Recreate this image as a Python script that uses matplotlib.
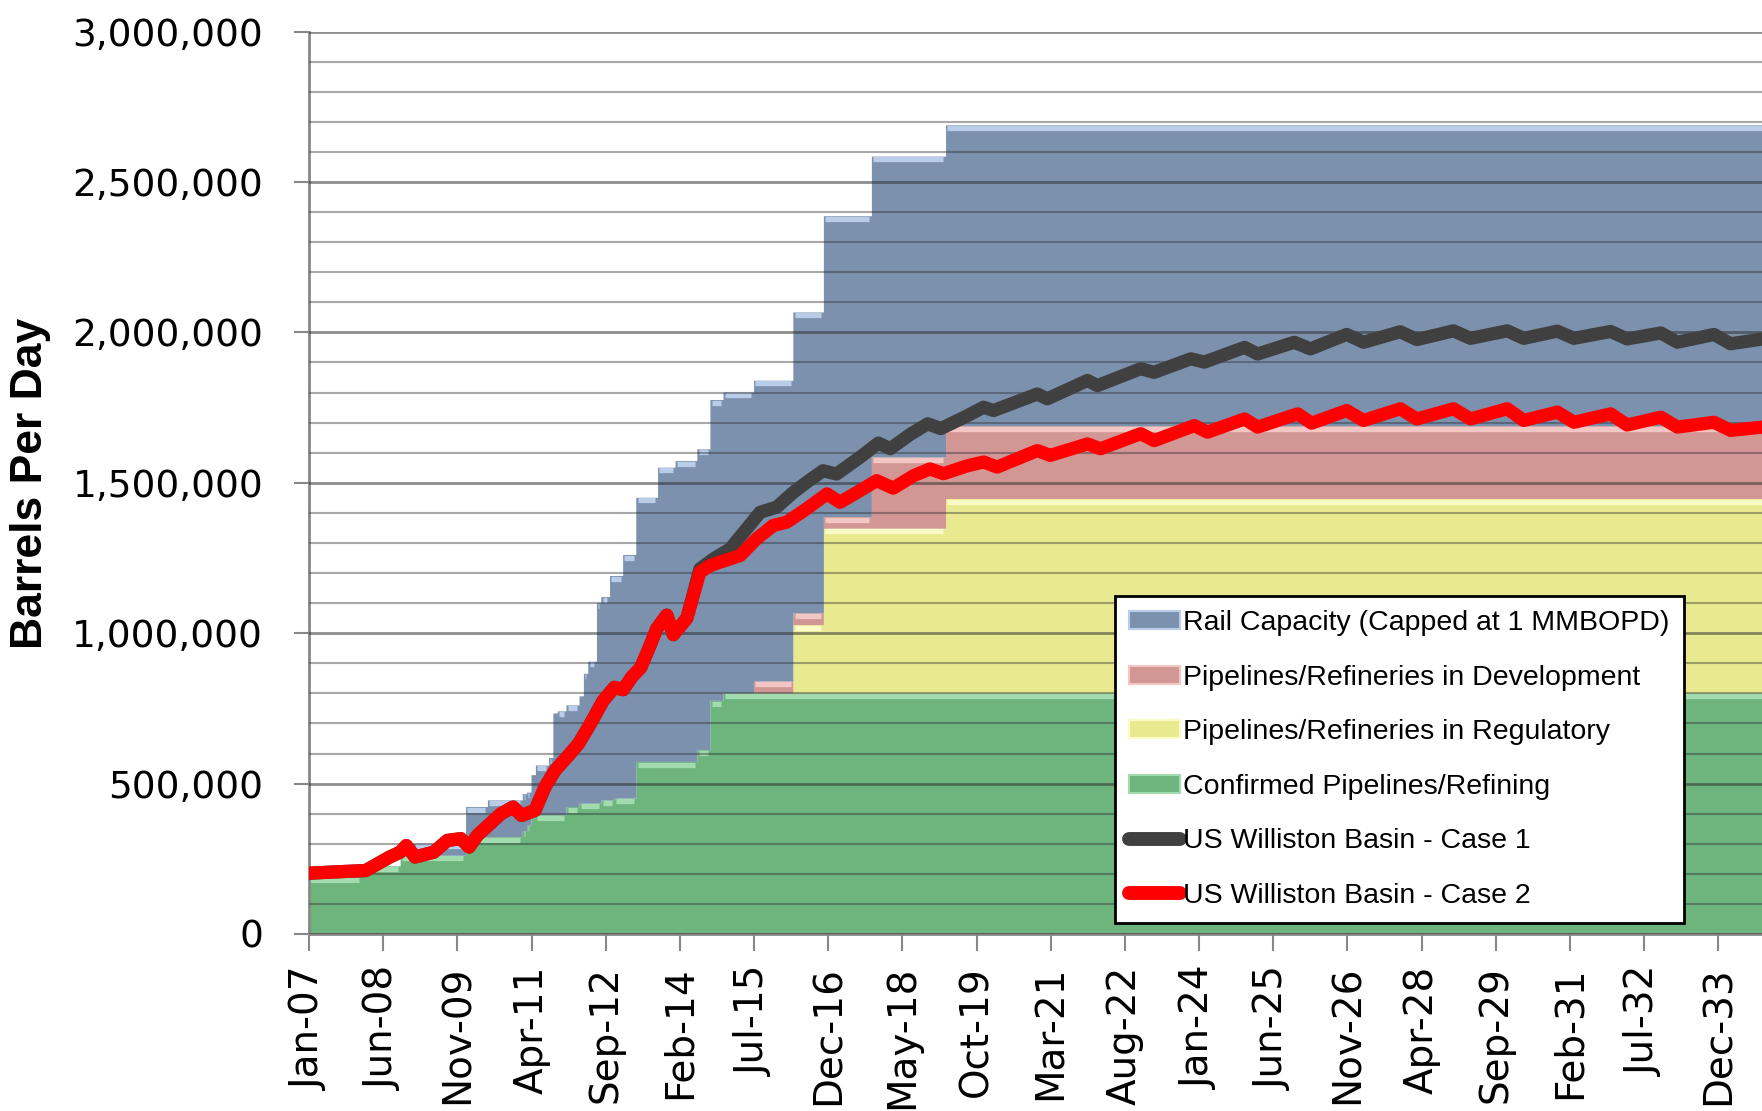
import numpy as np
import matplotlib
matplotlib.use("Agg")
import matplotlib.pyplot as plt
from matplotlib.patches import Patch
from matplotlib.lines import Line2D
from matplotlib.ticker import FuncFormatter, MultipleLocator

# ---------------- data (month index 0 = Jan-07) ----------------
N_MONTHS = 336  # Jan-07 .. Dec-34

confirmed_start = [0, 12, 21, 36, 49, 50, 51, 52, 59, 62, 67, 70, 75, 89, 92, 95]
confirmed_level = [190000, 225000, 260000, 322000, 340000, 360000, 383000, 395000,
                   422000, 433000, 444000, 450000, 572000, 611000, 775000, 800000]

regulatory_start = [0, 111, 118, 146]
regulatory_level = [0, 227000, 547000, 646000]

development_start = [0, 102, 129, 146]
development_level = [0, 39000, 237000, 242000]

rail_start = [0, 24, 36, 41, 49, 50, 51, 52, 55, 56, 57, 59, 62, 63, 64, 66, 67, 69,
              70, 72, 75, 80, 84]
rail_level = [0, 40000, 100000, 122000, 125000, 110000, 145000, 165000, 190000,
              338000, 345000, 338000, 357000, 432000, 472000, 667000, 676000, 746000,
              740000, 810000, 878000, 978000, 1000000]

# production forecasts (shared history until the cases split)
history_month = [0, 5.4, 13, 18.5, 20.9, 22.3, 24.3, 28.6, 31.7, 34.8, 36.7, 38.6, 44,
                 46.8, 48.7, 51.8, 54.1, 56.4, 59.5, 61.8, 64.1, 67.4, 70, 72, 74, 76,
                 78.2, 79.7, 82, 83.5, 86.6]
history_value = [202000, 206000, 211000, 256000, 272000, 294000, 256000, 272000, 311000,
                 317000, 289000, 328000, 400000, 422000, 394000, 411000, 489000, 544000,
                 594000, 633000, 689000, 775000, 820000, 812000, 855000, 885000, 960000,
                 1015000, 1060000, 995000, 1050000]

case1_month = [89.6, 92.7, 96.5, 100.3, 103.4, 107.2, 111, 114, 117.8, 120.9, 126.3,
               130.5, 133.2, 137.8, 141.8, 144.8, 150.5, 154.6, 156.9, 166.9, 169.2,
               178.4, 180.7, 190.6, 193.7, 202.1, 205.2, 214.4, 217.4, 225.8, 229.5,
               237.8, 241.7, 250.1, 253.9, 262.3, 266.2, 274.6, 278.4, 286.1, 289.9,
               298.3, 302.1, 309.8, 313.6, 322, 325.8, 333.2, 336]
case1_value = [1214000, 1247000, 1280000, 1347000, 1402000, 1419000, 1468000, 1501000,
               1540000, 1529000, 1585000, 1632000, 1613000, 1661000, 1696000, 1680000,
               1720000, 1751000, 1740000, 1795000, 1779000, 1840000, 1823000, 1879000,
               1867000, 1912000, 1901000, 1950000, 1928000, 1967000, 1945000, 1993000,
               1967000, 2002000, 1976000, 2005000, 1980000, 2005000, 1980000, 2004000,
               1980000, 2003000, 1978000, 1998000, 1967000, 1993000, 1962000, 1978000,
               1980000]

case2_month = [89.6, 92, 94.2, 98.8, 102.6, 106.4, 109.5, 114, 118.7, 121.7, 126.3, 130.1,
               133.9, 138.5, 142.3, 145.4, 150.8, 154.6, 157.7, 166.9, 169.9, 178.4,
               181.4, 190.6, 193.7, 202.9, 205.9, 214.4, 217.4, 226.6, 229.8, 237.8,
               241.7, 250.1, 253.9, 262.3, 266.2, 274.6, 278.4, 286.1, 289.9, 298.3,
               302.1, 309.8, 313.6, 322, 325.8, 333.2, 336]
case2_value = [1203000, 1225000, 1236000, 1258000, 1314000, 1358000, 1369000, 1413000,
               1463000, 1435000, 1474000, 1507000, 1482000, 1523000, 1546000, 1530000,
               1556000, 1569000, 1552000, 1607000, 1591000, 1629000, 1613000, 1663000,
               1640000, 1690000, 1668000, 1712000, 1685000, 1729000, 1698000, 1740000,
               1707000, 1746000, 1712000, 1746000, 1712000, 1746000, 1707000, 1735000,
               1701000, 1729000, 1692000, 1718000, 1685000, 1701000, 1674000, 1685000,
               1688000]

x_tick_labels = ['Jan-07', 'Jun-08', 'Nov-09', 'Apr-11', 'Sep-12', 'Feb-14', 'Jul-15',
                 'Dec-16', 'May-18', 'Oct-19', 'Mar-21', 'Aug-22', 'Jan-24', 'Jun-25',
                 'Nov-26', 'Apr-28', 'Sep-29', 'Feb-31', 'Jul-32', 'Dec-33']
x_tick_step = 17  # months between labels

legend_labels = ['Rail Capacity (Capped at 1 MMBOPD)',
                 'Pipelines/Refineries in Development',
                 'Pipelines/Refineries in Regulatory',
                 'Confirmed Pipelines/Refining',
                 'US Williston Basin - Case 1',
                 'US Williston Basin - Case 2']

# ---------------- styles ----------------
C_GREEN, H_GREEN = '#6DB47D', '#A2DCAE'
C_YELLOW, H_YELLOW = '#E9EA90', '#FBFBC6'
C_PINK, H_PINK = '#D29795', '#F3C6C4'
C_BLUE, H_BLUE = '#7B91AE', '#B9CDE8'
C_CASE1, C_CASE2 = '#404040', '#FF0000'


def expand(starts, levels):
    arr = np.zeros(N_MONTHS + 1)
    for s, lv in zip(starts, levels):
        arr[s:] = lv
    return arr


months = np.arange(N_MONTHS + 1)
confirmed = expand(confirmed_start, confirmed_level)
regulatory = expand(regulatory_start, regulatory_level)
development = expand(development_start, development_level)
rail = expand(rail_start, rail_level)

top1 = confirmed
top2 = top1 + regulatory
top3 = top2 + development
top4 = top3 + rail

fig = plt.figure(figsize=(17.62, 11.11), dpi=100)
ax = fig.add_axes([309 / 1762, 1 - 934 / 1111, 1 - 309 / 1762, (934 - 31.5) / 1111])

layers = [(np.zeros_like(top1), top1, confirmed, C_GREEN, H_GREEN),
          (top1, top2, regulatory, C_YELLOW, H_YELLOW),
          (top2, top3, development, C_PINK, H_PINK),
          (top3, top4, rail, C_BLUE, H_BLUE)]

for lo, hi, thick, col, hcol in layers:
    ax.fill_between(months, lo, hi, step='post', facecolor=col, edgecolor='none',
                    linewidth=0, zorder=1)
    # bevel highlight along the top edge of each visible step
    i = 0
    while i < N_MONTHS:
        j = i
        while j + 1 < N_MONTHS and hi[j + 1] == hi[i]:
            j += 1
        if thick[i] > 0:
            off = min(9000, thick[i] * 0.4)
            ax.hlines(hi[i] - off, i + 0.3, j + 1 - 0.6, colors=hcol, linewidth=3.8,
                      zorder=1.5)
        i = j + 1

ax.plot(history_month + case1_month, history_value + case1_value, color=C_CASE1,
        lw=9.5, solid_joinstyle='round', solid_capstyle='round', zorder=5)
ax.plot(history_month + case2_month, history_value + case2_value, color=C_CASE2,
        lw=9.5, solid_joinstyle='round', solid_capstyle='round', zorder=6)

ax.set_xlim(0, 333)
ax.set_ylim(0, 3000000)

ax.yaxis.set_major_locator(MultipleLocator(500000))
ax.yaxis.set_minor_locator(MultipleLocator(100000))
ax.yaxis.set_major_formatter(FuncFormatter(lambda v, p: f"{v:,.0f}"))
ax.set_axisbelow(False)
ax.grid(which='major', axis='y', color='#303030', alpha=0.55, lw=2.0)
ax.grid(which='minor', axis='y', color='#303030', alpha=0.42, lw=1.5)
ax.grid(which='major', axis='x', visible=False)

ax.set_xticks([k * x_tick_step for k in range(len(x_tick_labels))])
ax.set_xticklabels(x_tick_labels, rotation=90, fontsize=28, family='DejaVu Sans')

ax.tick_params(axis='x', which='major', length=12, width=1.5, color='#888888', pad=11)
ax.tick_params(axis='y', which='major', length=11, width=1.5, color='#888888', pad=22,
               labelsize=27)
ax.tick_params(axis='y', which='minor', length=0)

for s in ['top', 'right']:
    ax.spines[s].set_visible(False)
for s in ['left', 'bottom']:
    ax.spines[s].set_color('#888888')
    ax.spines[s].set_linewidth(2)

fig.text(31 / 1762, 1 - 483 / 1111, 'Barrels Per Day', rotation=90, ha='center',
         va='center', fontsize=32, fontweight='bold',
         family=['Liberation Sans', 'DejaVu Sans'])

handles = [Patch(facecolor=C_BLUE, edgecolor=H_BLUE, lw=1.5),
           Patch(facecolor=C_PINK, edgecolor=H_PINK, lw=1.5),
           Patch(facecolor=C_YELLOW, edgecolor=H_YELLOW, lw=1.5),
           Patch(facecolor=C_GREEN, edgecolor=H_GREEN, lw=1.5),
           Line2D([], [], color=C_CASE1, lw=10, solid_capstyle='round'),
           Line2D([], [], color=C_CASE2, lw=10, solid_capstyle='round')]
leg = fig.legend(handles, legend_labels, loc='upper left',
                 bbox_to_anchor=(1115 / 1762, 1 - 596 / 1111),
                 prop={'family': ['Liberation Sans', 'DejaVu Sans'], 'size': 20.5},
                 frameon=True, fancybox=False, edgecolor='black', framealpha=1,
                 borderpad=0.5, handlelength=1.8, handleheight=0.6,
                 handletextpad=0.1, labelspacing=1.0, borderaxespad=0)
leg.get_frame().set_linewidth(2)
leg.set_zorder(10)

fig.savefig('out.png', dpi=100)
